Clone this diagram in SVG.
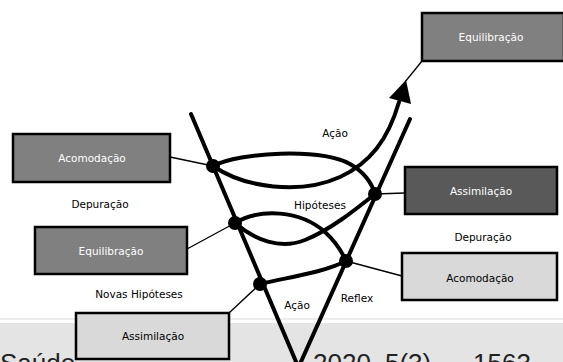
<svg xmlns="http://www.w3.org/2000/svg" width="563" height="362" viewBox="0 0 563 362">
<style>
.box{stroke:#000;stroke-width:2.5}
.mid{fill:#808080}
.dark{fill:#595959}
.light{fill:#d9d9d9}
.t{font-family:"DejaVu Sans",Verdana,sans-serif;font-size:10.5px;text-anchor:middle}
.w{fill:#fff}
.k{fill:#000}
.thick{fill:none;stroke:#000;stroke-width:4;stroke-linecap:round}
.thin{fill:none;stroke:#000;stroke-width:1.3}
.big{font-family:"Liberation Sans",Arial,sans-serif;font-size:26px;fill:#222}
</style>
<rect x="0" y="0" width="563" height="362" fill="#fff"/>
<g id="band">
<line x1="0" y1="319" x2="563" y2="319" stroke="#ececec" stroke-width="2"/>
<rect x="0" y="323" width="563" height="39" fill="#e4e4e4"/>
<text class="big" y="372"><tspan x="0">Saúde</tspan><tspan x="313">2020</tspan><tspan x="385">5(3),</tspan><tspan x="473">1563</tspan></text>
</g>
<g id="connectors">
<line class="thick" x1="191" y1="114" x2="297" y2="364"/>
<line class="thick" x1="410" y1="119" x2="300" y2="364"/>
<path class="thick" d="M213,166 C240,152 320,148 350,164 C364,172 372,184 375,194"/>
<path class="thick" d="M213,166 C245,188 300,195 340,177 C370,163 388,140 399,102"/>
<polygon points="406,80 389,98 411,104" fill="#000"/>
<path class="thick" d="M235,223 C260,208 300,210 325,232 C336,242 342,252 346,261"/>
<path class="thick" d="M235,223 C255,240 280,250 305,240 C330,230 355,210 375,194"/>
<path class="thick" d="M260,284 C290,277 325,272 346,261"/>
<line class="thin" x1="170" y1="157" x2="213" y2="166"/>
<line class="thin" x1="187" y1="249" x2="235" y2="223"/>
<line class="thin" x1="229" y1="313" x2="260" y2="284"/>
<line class="thin" x1="405" y1="193" x2="375" y2="194"/>
<line class="thin" x1="402" y1="276" x2="346" y2="261"/>
<line class="thin" x1="422" y1="61" x2="405" y2="82"/>
<circle cx="213" cy="166" r="7"/>
<circle cx="375" cy="194" r="7"/>
<circle cx="235" cy="223" r="7"/>
<circle cx="346" cy="261" r="7"/>
<circle cx="260" cy="284" r="7"/>
</g>
<g id="equilibracao-top">
<rect class="box mid" x="422" y="13" width="142" height="48"/>
<text class="t w" x="491" y="41">Equilibração</text>
</g>
<g id="acomodacao-left">
<rect class="box mid" x="13" y="134" width="157" height="48"/>
<text class="t w" x="92" y="162">Acomodação</text>
</g>
<g id="equilibracao-left">
<rect class="box mid" x="35" y="227" width="152" height="47"/>
<text class="t w" x="111" y="255">Equilibração</text>
</g>
<g id="assimilacao-bottom">
<rect class="box light" x="76" y="313" width="153" height="46"/>
<text class="t k" x="153" y="340">Assimilação</text>
</g>
<g id="assimilacao-right">
<rect class="box dark" x="405" y="167" width="152" height="47"/>
<text class="t w" x="481" y="195">Assimilação</text>
</g>
<g id="acomodacao-right">
<rect class="box light" x="402" y="253" width="155" height="47"/>
<text class="t k" x="480" y="282">Acomodação</text>
</g>
<g id="labels">
<text class="t k" x="100" y="208">Depuração</text>
<text class="t k" x="139" y="298">Novas Hipóteses</text>
<text class="t k" x="483" y="241">Depuração</text>
<text class="t k" x="335" y="137">Ação</text>
<text class="t k" x="320" y="209">Hipóteses</text>
<text class="t k" x="297" y="309">Ação</text>
<text class="t k" x="357" y="302">Reflex</text>
</g>
</svg>
